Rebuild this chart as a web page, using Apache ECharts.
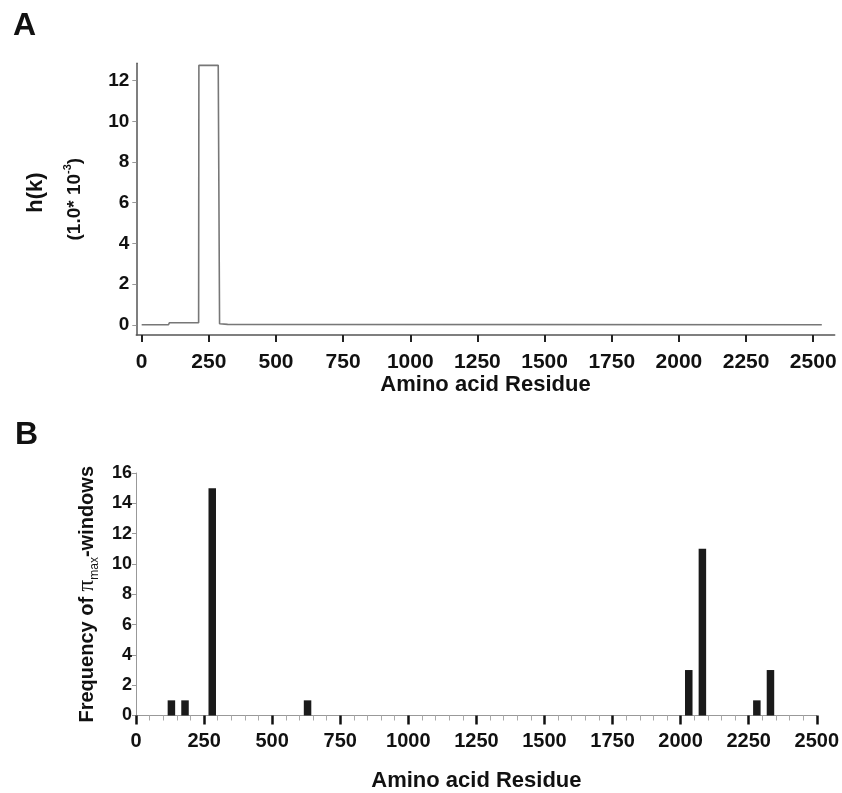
<!DOCTYPE html>
<html>
<head>
<meta charset="utf-8">
<script src="https://cdn.jsdelivr.net/npm/echarts@6/dist/echarts.min.js"></script>
<style>html,body{margin:0;padding:0;background:#fff}#c{width:842px;height:793px}</style>
</head>
<body>
<div id="c"></div>
<script>
// Panel A: h(k) profile along the sequence
const hResidue = [0, 100, 103, 212, 213, 285, 290, 320, 2532];
const hValue   = [0, 0, 0.1, 0.1, 12.75, 12.75, 0.05, 0.02, 0];
const hYTicks  = [0, 2, 4, 6, 8, 10, 12];
const residueTicks = [0, 250, 500, 750, 1000, 1250, 1500, 1750, 2000, 2250, 2500];
// Panel B: frequency of pi_max windows
const binCenters = [130, 180, 280, 630, 2030, 2080, 2280, 2330];
const binFreq    = [1, 1, 15, 1, 3, 11, 1, 3];

const SANS = "'Liberation Sans', Arial, Helvetica, sans-serif";
const NARROW = "'Liberation Sans Narrow', 'Arial Narrow', 'Liberation Sans', sans-serif";
const plain = v => String(v);

const chart = echarts.init(document.getElementById('c'), null, {renderer: 'canvas'});
chart.setOption({
  animation: false,
  backgroundColor: '#fff',
  title: [
    {text: 'A', left: 8, top: 5, textStyle: {fontFamily: SANS, fontWeight: 'bold', fontSize: 32, color: '#111'}},
    {text: 'B', left: 10, top: 414, textStyle: {fontFamily: SANS, fontWeight: 'bold', fontSize: 32, color: '#111'}}
  ],
  grid: [
    {left: 136.3, right: 7.3, top: 63.3, bottom: 458},
    {left: 136, right: 24, top: 473, bottom: 77.5}
  ],
  xAxis: [
    {
      gridIndex: 0, type: 'value', min: -20, max: 2580,
      name: 'Amino acid Residue', nameLocation: 'middle', nameGap: 34,
      nameTextStyle: {fontFamily: SANS, fontWeight: 'bold', fontSize: 22, color: '#111'},
      axisLine: {onZero: false, lineStyle: {color: '#555', width: 1.5}},
      axisTick: {show: true, length: 7, inside: false, customValues: residueTicks, lineStyle: {color: '#222', width: 2}},
      axisLabel: {customValues: residueTicks, formatter: plain, margin: 17, fontFamily: SANS, fontWeight: 'bold', fontSize: 21, color: '#111'},
      splitLine: {show: false}
    },
    {
      gridIndex: 1, type: 'value', min: 0, max: 2500, interval: 250,
      name: 'Amino acid Residue', nameLocation: 'middle', nameGap: 54,
      nameTextStyle: {fontFamily: SANS, fontWeight: 'bold', fontSize: 22, color: '#111'},
      axisLine: {onZero: false, lineStyle: {color: '#999', width: 1}},
      axisTick: {show: true, length: 9, inside: false, lineStyle: {color: '#111', width: 2.5}},
      minorTick: {show: true, splitNumber: 5, length: 5, lineStyle: {color: '#aaa', width: 1}},
      axisLabel: {formatter: plain, margin: 16, fontFamily: SANS, fontWeight: 'bold', fontSize: 20, color: '#111'},
      splitLine: {show: false}
    }
  ],
  yAxis: [
    {
      gridIndex: 0, type: 'value', min: -0.5, max: 12.85,
      name: '{a|h(k)}\n{b|(1.0* 10}{sup|-3}{b|)}',
      nameLocation: 'middle', nameGap: 50, nameRotate: 90,
      nameTextStyle: {
        color: '#111',
        rich: {
          a: {fontFamily: SANS, fontWeight: 'bold', fontSize: 22, lineHeight: 53, padding: [0, 0, 0, 13], color: '#111'},
          b: {fontFamily: NARROW, fontWeight: 'bold', fontSize: 19, lineHeight: 24, color: '#111'},
          sup: {fontFamily: NARROW, fontWeight: 'bold', fontSize: 11, lineHeight: 24, verticalAlign: 'top', color: '#111'}
        }
      },
      axisLine: {onZero: false, lineStyle: {color: '#555', width: 1.5}},
      axisTick: {show: true, length: 4, customValues: hYTicks, lineStyle: {color: '#999', width: 1}},
      axisLabel: {customValues: hYTicks, margin: 7, fontFamily: NARROW, fontWeight: 'bold', fontSize: 19, color: '#111'},
      splitLine: {show: false}
    },
    {
      gridIndex: 1, type: 'value', min: 0, max: 16, interval: 2,
      name: '{m|Frequency of }{p|π}{s|max}{m|-windows}',
      nameLocation: 'middle', nameGap: 34, nameRotate: 90,
      nameTextStyle: {
        color: '#111',
        rich: {
          m: {fontFamily: SANS, fontWeight: 'bold', fontSize: 20, lineHeight: 28, color: '#111'},
          p: {fontFamily: "'Liberation Serif', 'DejaVu Serif', serif", fontWeight: 'normal', fontSize: 23, lineHeight: 28, color: '#111'},
          s: {fontFamily: SANS, fontWeight: 'normal', fontSize: 12, lineHeight: 28, verticalAlign: 'bottom', color: '#111'}
        }
      },
      axisLine: {onZero: false, lineStyle: {color: '#999', width: 1}},
      axisTick: {show: true, length: 4, lineStyle: {color: '#999', width: 1}},
      axisLabel: {margin: 4, fontFamily: NARROW, fontWeight: 'bold', fontSize: 18, color: '#111'},
      splitLine: {show: false}
    }
  ],
  series: [
    {
      type: 'line', xAxisIndex: 0, yAxisIndex: 0,
      data: hResidue.map((x, i) => [x, hValue[i]]),
      showSymbol: false, symbol: 'none',
      lineStyle: {color: '#777', width: 1.6},
      z: 3
    },
    {
      type: 'bar', xAxisIndex: 1, yAxisIndex: 1,
      data: binCenters.map((x, i) => [x, binFreq[i]]),
      barWidth: 7.5,
      itemStyle: {color: '#1a1a1a'}
    }
  ]
});
</script>
</body>
</html>
